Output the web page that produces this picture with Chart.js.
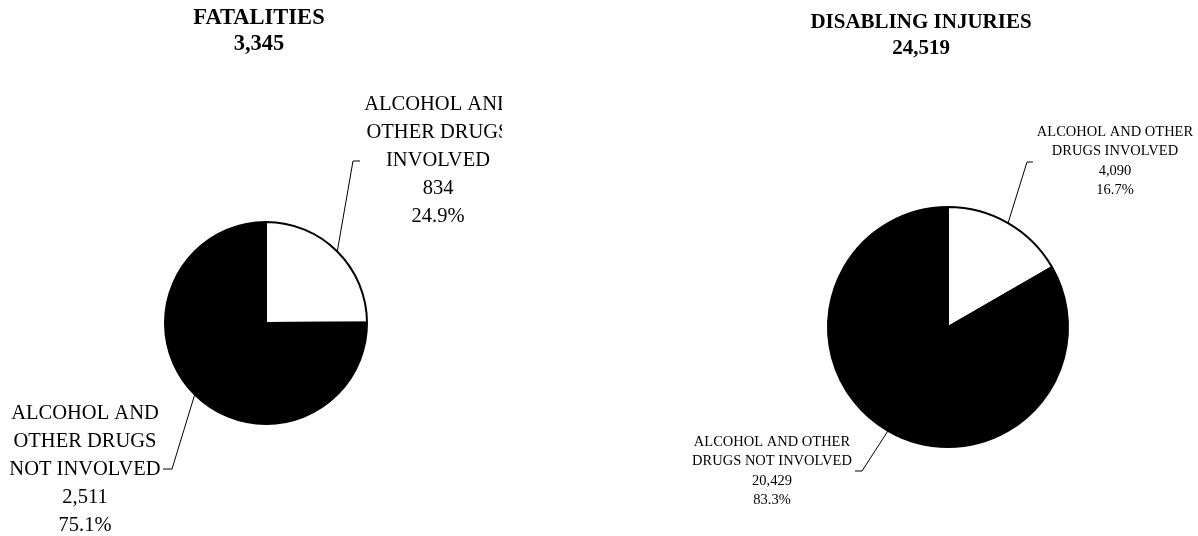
<!DOCTYPE html>
<html>
<head>
<meta charset="utf-8">
<script src="https://cdn.jsdelivr.net/npm/chart.js@4.4.0/dist/chart.umd.min.js"></script>
<style>
  body { margin: 0; background: #fff; }
  #wrap { position: relative; width: 1198px; height: 536px; overflow: hidden; }
  .box { position: absolute; top: 0; height: 536px; }
</style>
</head>
<body>
<div id="wrap">
  <div class="box" style="left:0;width:502px"><canvas id="fatal"></canvas></div>
  <div class="box" style="left:600px;width:598px"><canvas id="injury"></canvas></div>
</div>
<script>
// data
const fatalTitle = 'FATALITIES';
const fatalCategories = [['ALCOHOL AND', 'OTHER DRUGS', 'INVOLVED'], ['ALCOHOL AND', 'OTHER DRUGS', 'NOT INVOLVED']];
const fatalValues = [834, 2511];

const injuryTitle = 'DISABLING INJURIES';
const injuryCategories = [['ALCOHOL AND OTHER', 'DRUGS INVOLVED'], ['ALCOHOL AND OTHER', 'DRUGS NOT INVOLVED']];
const injuryValues = [4090, 20429];

const sliceColors = ['#ffffff', '#000000'];

const fmt = n => n.toLocaleString('en-US');
const SERIF = '"Liberation Serif", "Times New Roman", serif';

// draws the title, and the labels with leader lines
const labelPlugin = {
  id: 'pieLabels',
  afterDraw(chart, args, opts) {
    const ctx = chart.ctx;
    const values = chart.data.datasets[0].data;
    const total = values.reduce((a, b) => a + b, 0);
    const meta = chart.getDatasetMeta(0);
    ctx.save();
    ctx.fillStyle = '#000';
    ctx.textAlign = 'center';
    ctx.textBaseline = 'middle';

    // title
    ctx.font = 'bold ' + opts.titleSize + 'px ' + SERIF;
    ctx.fillText(opts.title, opts.titleX, opts.titleY);
    ctx.fillText(fmt(total), opts.titleX, opts.titleY + opts.titleStep);

    ctx.font = opts.fontSize + 'px ' + SERIF;
    meta.data.forEach((arc, i) => {
      const p = opts.places[i];
      const mid = (arc.startAngle + arc.endAngle) / 2;
      const ex = arc.x + arc.outerRadius * Math.cos(mid);
      const ey = arc.y + arc.outerRadius * Math.sin(mid);

      // leader line
      ctx.strokeStyle = '#000';
      ctx.lineWidth = 1;
      ctx.beginPath();
      ctx.moveTo(ex, ey);
      ctx.lineTo(p.elbowX, p.elbowY);
      ctx.lineTo(p.tickX, p.elbowY);
      ctx.stroke();

      const lines = chart.data.labels[i].concat([
        fmt(values[i]),
        (values[i] / total * 100).toFixed(1) + '%'
      ]);
      lines.forEach((t, k) => ctx.fillText(t, p.x, p.y + k * opts.step));
    });
    ctx.restore();
  }
};

function pieChart(id, labels, values, radius, padding, labelOpts) {
  return new Chart(document.getElementById(id), {
    type: 'pie',
    data: {
      labels: labels,
      datasets: [{
        data: values,
        backgroundColor: sliceColors,
        borderColor: '#000',
        borderWidth: 2
      }]
    },
    options: {
      responsive: true,
      maintainAspectRatio: false,
      animation: false,
      events: [],
      radius: radius,
      layout: { padding: padding },
      plugins: {
        legend: { display: false },
        title: { display: false },
        tooltip: { enabled: false },
        pieLabels: labelOpts
      }
    },
    plugins: [labelPlugin]
  });
}

pieChart('fatal', fatalCategories, fatalValues, 101,
  { left: 30, top: 110, right: 0, bottom: 0 },
  {
    title: fatalTitle, titleX: 259, titleY: 18, titleStep: 26, titleSize: 22.5,
    fontSize: 20.5, step: 27.8,
    places: [
      { x: 438, y: 105, elbowX: 353, elbowY: 161, tickX: 360 },
      { x: 85, y: 414, elbowX: 172, elbowY: 469, tickX: 163 }
    ]
  });

pieChart('injury', injuryCategories, injuryValues, 120,
  { left: 98, top: 118, right: 0, bottom: 0 },
  {
    title: injuryTitle, titleX: 321, titleY: 23, titleStep: 26, titleSize: 21,
    fontSize: 14.5, step: 19.5,
    places: [
      { x: 515, y: 132, elbowX: 427, elbowY: 162, tickX: 433 },
      { x: 172, y: 442, elbowX: 262, elbowY: 471, tickX: 255 }
    ]
  });
</script>
</body>
</html>
